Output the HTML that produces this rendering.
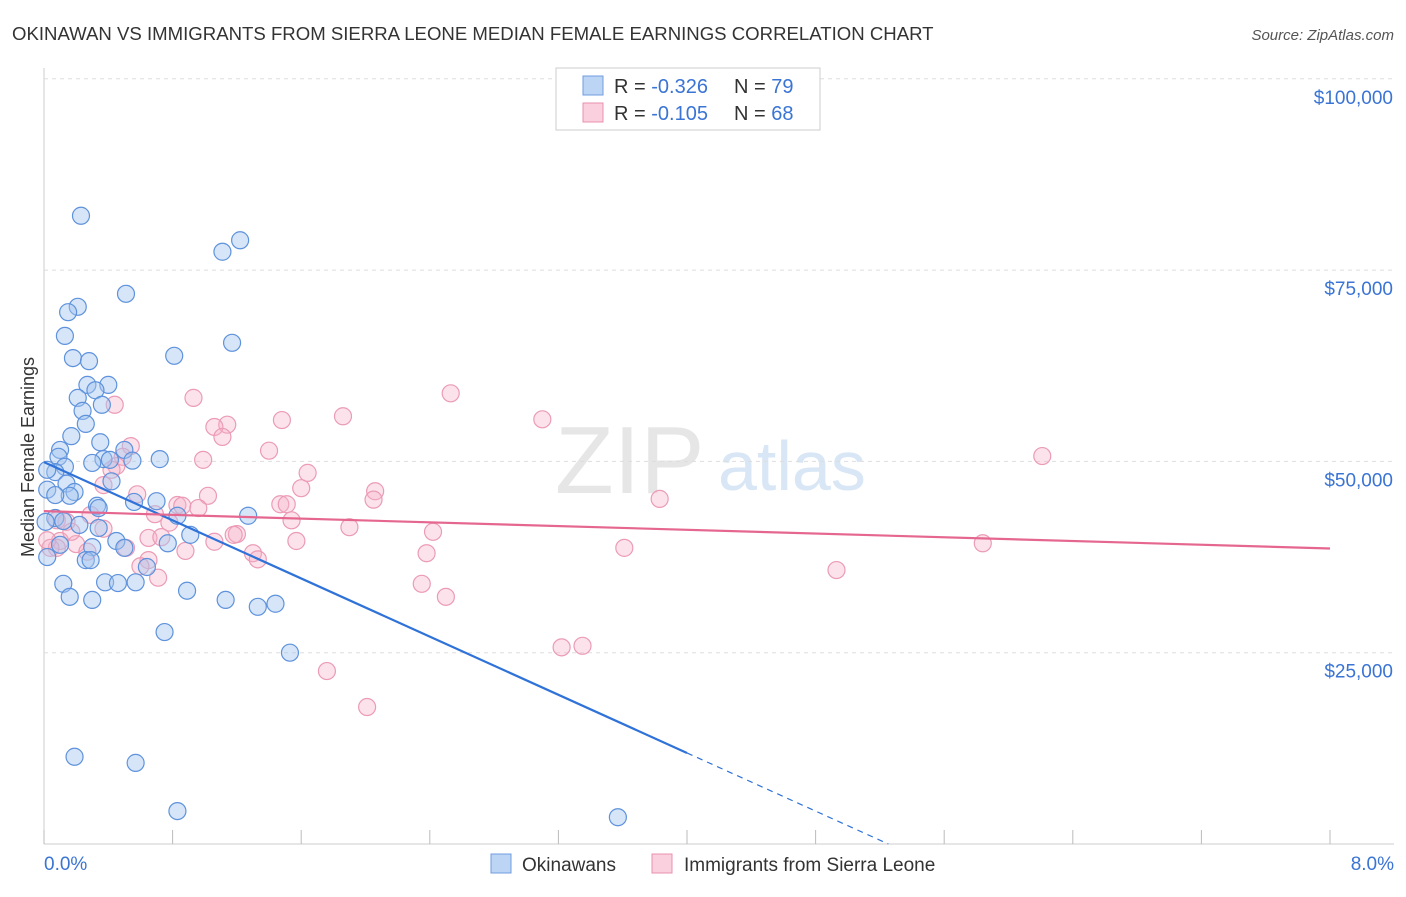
<!DOCTYPE html>
<html><head><meta charset="utf-8"><style>
body{margin:0;background:#fff;font-family:"Liberation Sans",sans-serif}
svg text{font-family:"Liberation Sans",sans-serif}
</style></head><body>
<svg id="c" width="1406" height="892">
<text x="12" y="40" font-size="18.6" fill="#333">OKINAWAN VS IMMIGRANTS FROM SIERRA LEONE MEDIAN FEMALE EARNINGS CORRELATION CHART</text>
<text x="1394" y="40" font-size="15" fill="#555" font-style="italic" text-anchor="end">Source: ZipAtlas.com</text>
<text x="34" y="457" font-size="18" fill="#333" text-anchor="middle" transform="rotate(-90 34 457)">Median Female Earnings</text>
<text x="555" y="493" font-size="96" fill="#e6e6e6" font-family="Liberation Serif">ZIP</text>
<text x="718" y="490" font-size="70" fill="#d8e6f5">atlas</text>
<g id="grid"></g><g id="marks"></g><g id="lines"></g>
<g>
<rect x="556" y="68" width="264" height="62" fill="#fff" stroke="#ccc"/>
<rect x="583" y="76" width="20" height="19" fill="#bcd5f5" stroke="#6f9de0"/>
<rect x="583" y="103" width="20" height="19" fill="#fbd0de" stroke="#e891ad"/>
<text x="614" y="93" font-size="20" fill="#333">R = <tspan fill="#3a74d4">-0.326</tspan></text>
<text x="734" y="93" font-size="20" fill="#333">N = <tspan fill="#3a74d4">79</tspan></text>
<text x="614" y="120" font-size="20" fill="#333">R = <tspan fill="#3a74d4">-0.105</tspan></text>
<text x="734" y="120" font-size="20" fill="#333">N = <tspan fill="#3a74d4">68</tspan></text>
</g>
<g>
<rect x="491" y="854" width="20" height="19" fill="#bcd5f5" stroke="#6f9de0"/>
<text x="522" y="871" font-size="19" fill="#333">Okinawans</text>
<rect x="652" y="854" width="20" height="19" fill="#fbd0de" stroke="#e891ad"/>
<text x="684" y="871" font-size="19" fill="#333">Immigrants from Sierra Leone</text>
</g>
</svg>
<script>
const blueX=[0.23,1.22,1.11,0.51,0.21,0.15,0.13,1.17,0.81,0.18,0.28,0.27,0.40,0.32,0.21,0.36,0.24,0.26,0.17,0.35,0.10,0.50,0.09,0.37,0.55,0.72,0.30,0.13,0.07,0.02,0.42,0.14,0.19,0.16,0.56,0.70,0.33,0.34,1.27,0.83,0.07,0.01,0.12,0.22,0.34,0.91,0.45,0.50,0.77,0.30,0.26,0.29,0.64,0.38,0.57,0.46,0.12,0.89,0.16,0.30,1.13,1.44,1.33,0.75,1.53,0.19,0.57,0.83,3.57,0.02,0.02,0.07,0.10,0.41];
const blueY=[82.1,78.9,77.4,71.9,70.2,69.5,66.4,65.5,63.8,63.5,63.1,60.0,60.0,59.3,58.3,57.4,56.6,54.9,53.3,52.5,51.5,51.5,50.6,50.3,50.1,50.3,49.8,49.3,48.6,48.9,47.4,47.1,46.0,45.5,44.7,44.8,44.2,43.9,42.9,42.9,42.6,42.1,42.2,41.7,41.3,40.4,39.6,38.7,39.3,38.8,37.1,37.1,36.2,34.2,34.2,34.1,34.0,33.1,32.3,31.9,31.9,31.4,31.0,27.7,25.0,11.4,10.6,4.3,3.5,37.5,46.3,45.6,39.1,50.2];
const pinkX=[2.53,0.93,0.44,1.86,3.10,1.14,1.06,1.11,1.48,0.54,1.40,0.99,0.49,6.21,0.45,1.64,0.37,0.58,2.06,1.02,1.60,2.05,0.83,0.86,1.47,1.51,3.83,0.96,0.29,0.69,1.54,0.08,0.14,0.78,1.90,2.42,0.37,1.20,1.18,0.65,0.73,0.10,1.06,1.57,0.20,0.51,5.84,3.61,0.08,0.04,0.88,1.30,1.33,0.27,2.38,0.65,0.60,0.71,4.93,2.35,2.50,3.22,3.35,1.76,2.01,0.02,0.42,0.17];
const pinkY=[58.9,58.3,57.4,55.9,55.5,54.8,54.5,53.2,55.4,52.0,51.4,50.2,50.6,50.7,49.4,48.5,46.9,45.7,46.1,45.5,46.5,45.0,44.3,44.2,44.4,44.4,45.1,43.9,43.0,43.1,42.3,42.3,42.1,42.0,41.4,40.8,41.2,40.5,40.4,40.0,40.1,39.6,39.5,39.6,39.2,38.7,39.3,38.7,38.7,38.7,38.3,38.0,37.2,38.2,38.0,37.1,36.3,34.8,35.8,34.0,32.3,25.7,25.9,22.6,17.9,39.7,48.9,40.8];
const yTicks=[25,50,75,100];
const yTickLabels=["$25,000","$50,000","$75,000","$100,000"];
const xTicks=[0,0.8,1.6,2.4,3.2,4.0,4.8,5.6,6.4,7.2,8.0];
const blueTrend=[49.9,-9.5];
const pinkTrend=[43.5,-0.61];
const X=v=>44+v*160.75, Y=v=>844-v*7.652;
const NS="http://www.w3.org/2000/svg";
function mk(t,a,p){const e=document.createElementNS(NS,t);for(const k in a)e.setAttribute(k,a[k]);p.appendChild(e);return e;}
const g=document.getElementById('grid'),m=document.getElementById('marks'),l=document.getElementById('lines');
mk('line',{x1:44,y1:68,x2:44,y2:844,stroke:'#ccc'},g);
mk('line',{x1:44,y1:844,x2:1394,y2:844,stroke:'#ccc'},g);
yTicks.forEach((t,i)=>{
 const ln=mk('line',{x1:44,y1:Y(t),x2:1394,y2:Y(t),stroke:'#ddd','stroke-dasharray':'4,4'},g);
 
 
 const tx=mk('text',{x:1393,y:Y(t)+25,'font-size':19,fill:'#3a74d4','text-anchor':'end'},g);
 tx.textContent=yTickLabels[i];
 
 
});
xTicks.forEach(t=>{
 const tk=mk('line',{x1:X(t),y1:830,x2:X(t),y2:844,stroke:'#bbb'},g);
 
 
});
const x0=mk('text',{x:44,y:870,'font-size':19,fill:'#3a74d4'},g);x0.textContent='0.0%';


const x8=mk('text',{x:1394,y:870,'font-size':19,fill:'#3a74d4','text-anchor':'end'},g);x8.textContent='8.0%';


pinkX.forEach((x,i)=>{
 const c=mk('circle',{cx:X(x),cy:Y(pinkY[i]),r:8.5,fill:'rgba(246,175,198,0.35)',stroke:'#eb9bb6','stroke-width':1.2},m);
 
 
});
blueX.forEach((x,i)=>{
 const c=mk('circle',{cx:X(x),cy:Y(blueY[i]),r:8.5,fill:'rgba(165,198,240,0.45)',stroke:'#5e92dc','stroke-width':1.2},m);
 
 
});
const bEnd=4.0, bZero=-blueTrend[0]/blueTrend[1];
const b1=mk('line',{x1:X(0),y1:Y(blueTrend[0]),x2:X(bEnd),y2:Y(blueTrend[0]+blueTrend[1]*bEnd),stroke:'#2f72d8','stroke-width':2.2},l);


const b2=mk('line',{x1:X(bEnd),y1:Y(blueTrend[0]+blueTrend[1]*bEnd),x2:X(bZero),y2:Y(0),stroke:'#2f72d8','stroke-width':1.2,'stroke-dasharray':'6,5'},l);


const p1=mk('line',{x1:X(0),y1:Y(pinkTrend[0]),x2:X(8),y2:Y(pinkTrend[0]+pinkTrend[1]*8),stroke:'#e5678f','stroke-width':2.2},l);


</script>
</body></html>
